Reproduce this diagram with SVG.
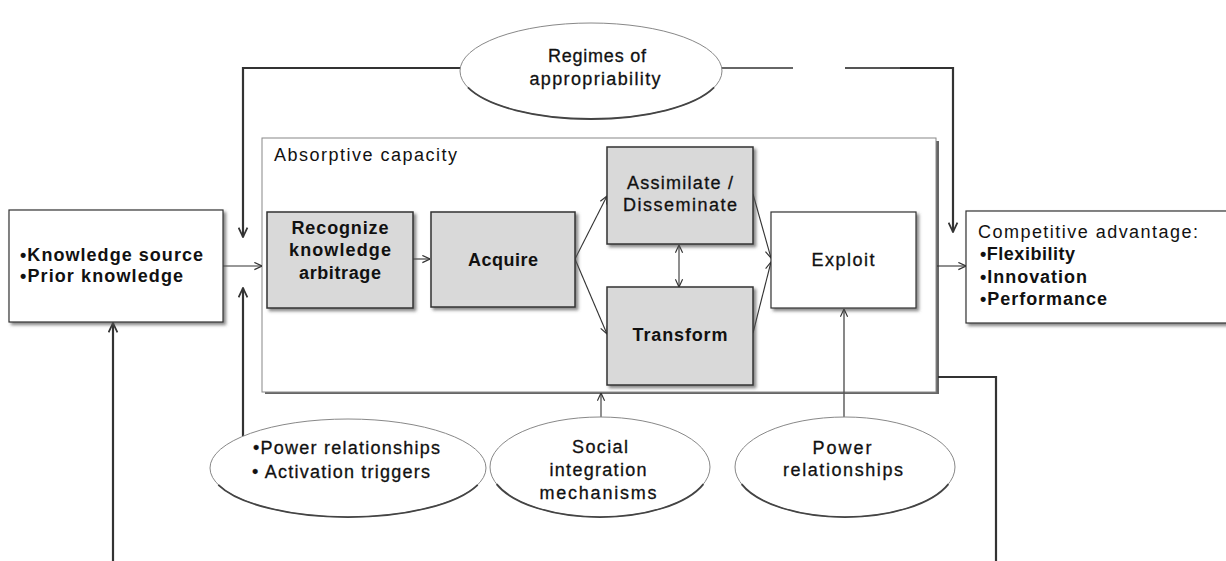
<svg xmlns="http://www.w3.org/2000/svg" width="1226" height="561" viewBox="0 0 1226 561">
  <style>
    text { font-family: "Liberation Sans", Arial, sans-serif; font-size: 18px; fill: #111; }
    .b { font-weight: bold; }
    .m { stroke: #111; stroke-width: 0.3px; }
    .box { fill: #fff; stroke: #333; stroke-width: 1.2; }
    .gbox { fill: #d9d9d9; stroke: #333; stroke-width: 1.5; }
    .ell { fill: #fff; stroke: #888; stroke-width: 1; }
    .ellb { fill: none; stroke: #444; stroke-width: 1.8; }
    .thick { fill: none; stroke: #333; stroke-width: 2.2; }
    .thin { fill: none; stroke: #333; stroke-width: 1.1; }
  </style>
  <defs>
    <filter id="sh" x="-10%" y="-10%" width="125%" height="130%">
      <feDropShadow dx="2.5" dy="2.5" stdDeviation="1.5" flood-color="#555" flood-opacity="0.7"/>
    </filter>
    <marker id="ah" viewBox="0 0 10 10" refX="9.5" refY="5" markerWidth="9" markerHeight="9" markerUnits="userSpaceOnUse" orient="auto-start-reverse">
      <path d="M1,1 L9.5,5 L1,9" fill="none" stroke="#333" stroke-width="1.3"/>
    </marker>
    <marker id="ahb" viewBox="0 0 10 10" refX="9.5" refY="5" markerWidth="11" markerHeight="11" markerUnits="userSpaceOnUse" orient="auto-start-reverse">
      <path d="M1,1 L9.5,5 L1,9" fill="none" stroke="#333" stroke-width="1.6"/>
    </marker>
  </defs>

  <!-- absorptive capacity frame (drawn first so arrows sit on top) -->
  <g id="absorptive-capacity">
    <path d="M265,141 H939 V394 H265 Z" fill="#666"/>
    <rect x="262" y="138" width="674" height="254" fill="#fff" stroke="#888" stroke-width="1"/>
    <text x="274" y="161" font-size="17" textLength="183" lengthAdjust="spacing">Absorptive capacity</text>
  </g>

  <!-- connectors -->
  <g id="connectors">
    <!-- appropriability feedback, left and right -->
    <path class="thick" d="M460,68 H243 V237" marker-end="url(#ahb)"/>
    <path d="M722,68 H793" fill="none" stroke="#666" stroke-width="2"/>
    <path d="M845,68 H900" fill="none" stroke="#555" stroke-width="2.2"/>
    <path class="thick" d="M900,68 H953 V232" marker-end="url(#ahb)"/>
    <!-- source into absorptive capacity -->
    <path class="thin" d="M223,266 H262" marker-end="url(#ah)"/>
    <!-- power relationships / activation triggers -->
    <path class="thick" d="M243,436 V288" marker-end="url(#ahb)"/>
    <!-- loop back to knowledge source -->
    <path class="thick" d="M113,561 V323" marker-end="url(#ahb)"/>
    <!-- output to competitive advantage -->
    <path class="thin" d="M937,266 H966" marker-end="url(#ah)"/>
    <!-- feedback from outcome -->
    <path class="thick" d="M938,377 H996 V561"/>
    <!-- internal process arrows -->
    <path class="thin" d="M413,259 H430" marker-end="url(#ah)"/>
    <path class="thin" d="M575,259 L607,196" marker-end="url(#ah)"/>
    <path class="thin" d="M575,259 L607,334" marker-end="url(#ah)"/>
    <path class="thin" d="M679,245 V287" marker-start="url(#ah)" marker-end="url(#ah)"/>
    <path class="thin" d="M753,194 L771,258" marker-end="url(#ah)"/>
    <path class="thin" d="M753,333 L771,262" marker-end="url(#ah)"/>
    <!-- social integration into absorptive capacity -->
    <path class="thin" d="M601,417 V393" marker-end="url(#ah)"/>
    <!-- power relationships into exploit -->
    <path d="M844,417 V309" fill="none" stroke="#555" stroke-width="1.4" marker-end="url(#ah)"/>
  </g>

  <g id="knowledge-source">
    <rect class="box" x="9" y="210" width="214" height="112" filter="url(#sh)"/>
    <text class="b" x="20" y="261" textLength="183" lengthAdjust="spacing">•Knowledge source</text>
    <text class="b" x="20" y="282" textLength="163" lengthAdjust="spacing">•Prior knowledge</text>
  </g>

  <g id="recognize">
    <rect class="gbox" x="267" y="212" width="146" height="96" filter="url(#sh)"/>
    <text class="b" x="340" y="234" text-anchor="middle" textLength="97" lengthAdjust="spacing">Recognize</text>
    <text class="b" x="340" y="256" text-anchor="middle" textLength="102" lengthAdjust="spacing">knowledge</text>
    <text class="b" x="340" y="279" text-anchor="middle" textLength="82" lengthAdjust="spacing">arbitrage</text>
  </g>

  <g id="acquire">
    <rect class="gbox" x="431" y="212" width="144" height="95" filter="url(#sh)"/>
    <text class="b" x="503" y="266" text-anchor="middle" textLength="70" lengthAdjust="spacing">Acquire</text>
  </g>

  <g id="assimilate">
    <rect class="gbox" x="607" y="147" width="146" height="97" filter="url(#sh)"/>
    <text class="m" x="680" y="189" text-anchor="middle" textLength="106" lengthAdjust="spacing">Assimilate /</text>
    <text class="m" x="680" y="211" text-anchor="middle" textLength="114" lengthAdjust="spacing">Disseminate</text>
  </g>

  <g id="transform">
    <rect class="gbox" x="607" y="287" width="146" height="98" filter="url(#sh)"/>
    <text class="b" x="680" y="341" text-anchor="middle" textLength="95" lengthAdjust="spacing">Transform</text>
  </g>

  <g id="exploit">
    <rect class="box" x="771" y="212" width="145" height="96" filter="url(#sh)"/>
    <text class="m" x="843" y="266" text-anchor="middle" textLength="63" lengthAdjust="spacing">Exploit</text>
  </g>

  <g id="competitive-advantage">
    <rect class="box" x="966" y="211" width="262" height="112" filter="url(#sh)"/>
    <text x="978" y="238" textLength="220" lengthAdjust="spacing">Competitive advantage:</text>
    <text class="b" x="980" y="260" textLength="95" lengthAdjust="spacing">•Flexibility</text>
    <text class="b" x="980" y="283" textLength="107" lengthAdjust="spacing">•Innovation</text>
    <text class="b" x="980" y="305" textLength="127" lengthAdjust="spacing">•Performance</text>
  </g>

  <g id="regimes">
    <ellipse class="ell" cx="591" cy="71" rx="131" ry="48"/>
    <path class="ellb" d="M467.9,87.4 A131,48 0 0 0 714.1,87.4"/>
    <text class="m" x="597" y="62" text-anchor="middle" textLength="98" lengthAdjust="spacing">Regimes of</text>
    <text class="m" x="595" y="85" text-anchor="middle" textLength="131" lengthAdjust="spacing">appropriability</text>
  </g>

  <g id="power-activation">
    <ellipse class="ell" cx="348" cy="468" rx="138" ry="49"/>
    <path class="ellb" d="M218.3,484.8 A138,49 0 0 0 477.7,484.8"/>
    <text class="m" x="253" y="454" textLength="187" lengthAdjust="spacing">•Power relationships</text>
    <text class="m" x="252" y="478" textLength="178" lengthAdjust="spacing">• Activation triggers</text>
  </g>

  <g id="social-integration">
    <ellipse class="ell" cx="600" cy="467" rx="110" ry="50"/>
    <path class="ellb" d="M496.6,484.1 A110,50 0 0 0 703.4,484.1"/>
    <text class="m" x="600" y="453" text-anchor="middle" textLength="56" lengthAdjust="spacing">Social</text>
    <text class="m" x="598" y="476" text-anchor="middle" textLength="97" lengthAdjust="spacing">integration</text>
    <text class="m" x="598" y="499" text-anchor="middle" textLength="117" lengthAdjust="spacing">mechanisms</text>
  </g>

  <g id="power-relationships">
    <ellipse class="ell" cx="845" cy="467" rx="110" ry="50"/>
    <path class="ellb" d="M741.6,484.1 A110,50 0 0 0 948.4,484.1"/>
    <text class="m" x="842" y="454" text-anchor="middle" textLength="59" lengthAdjust="spacing">Power</text>
    <text class="m" x="843" y="476" text-anchor="middle" textLength="120" lengthAdjust="spacing">relationships</text>
  </g>
</svg>
